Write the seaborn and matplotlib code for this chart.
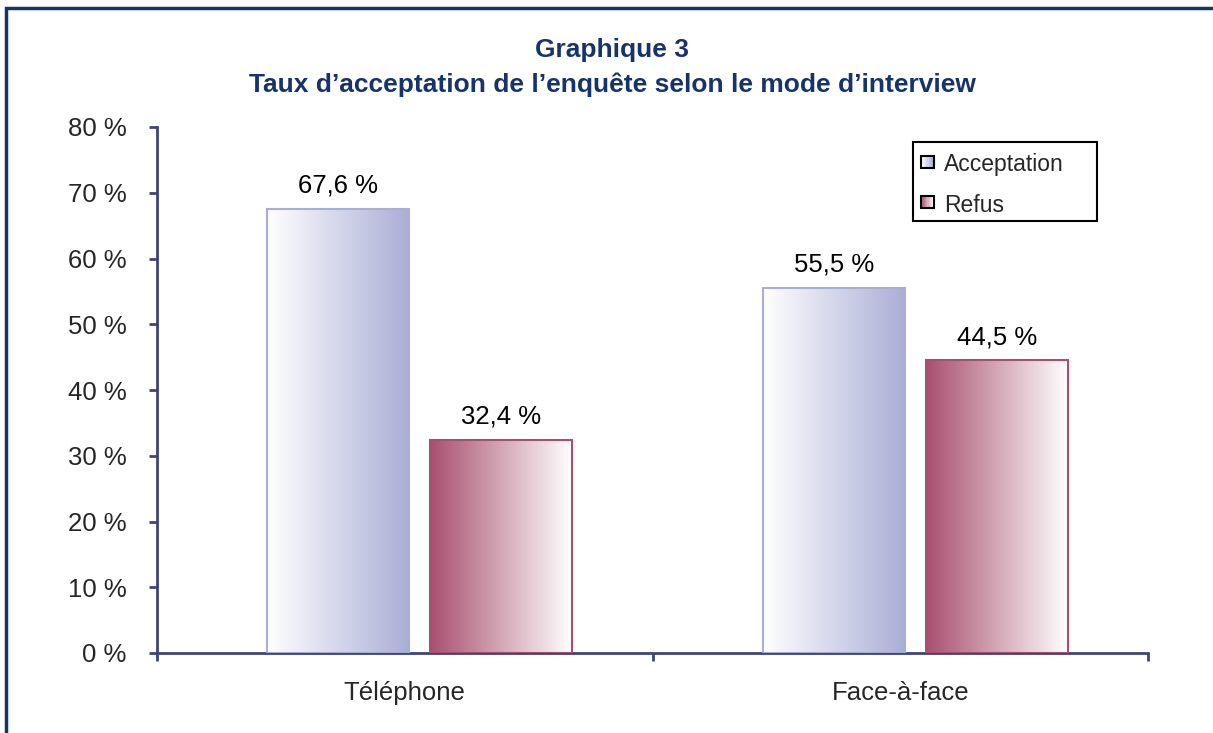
import numpy as np
import pandas as pd
import seaborn as sns
import matplotlib
matplotlib.use("Agg")
from matplotlib import pyplot as plt
from matplotlib.patches import Rectangle
from matplotlib.colors import LinearSegmentedColormap
from matplotlib.legend_handler import HandlerBase

# donnees
modes = ["Téléphone", "Face-à-face"]
acceptation = [67.6, 55.5]
refus = [32.4, 44.5]
series = ["Acceptation", "Refus"]
y_ticks = [0, 10, 20, 30, 40, 50, 60, 70, 80]

navy = "#17336B"
axis_col = "#3F4478"
lav = "#A9AED6"
rose = "#A8506F"

df = pd.DataFrame({
    "mode": modes * 2,
    "serie": [series[0]] * len(modes) + [series[1]] * len(modes),
    "valeur": acceptation + refus,
})

sns.set_style("white")
plt.rcParams["font.family"] = ["Liberation Sans", "DejaVu Sans"]

W, H = 1213, 733
fig = plt.figure(figsize=(W / 100, H / 100), dpi=100)
ax = fig.add_axes([157 / W, 1 - 653 / H, 991 / W, 526 / H])

sns.barplot(data=df, x="mode", y="valeur", hue="serie", hue_order=series,
            order=modes, width=0.62, legend=False, ax=ax)

# degrade : blanc -> lavande pour acceptation, rose -> blanc pour refus
cmaps = [LinearSegmentedColormap.from_list("acc", ["#FFFFFF", lav]),
         LinearSegmentedColormap.from_list("ref", [rose, "#FFFFFF"])]
edges = [lav, rose]
shifts = [0.0324, 0.0514]   # petit decalage comme dans Excel
bar_w = 0.2866
grad = np.linspace(0, 1, 256).reshape(1, -1)

for i, cont in enumerate(ax.containers):
    for bar in cont:
        x, h = bar.get_x() + shifts[i], bar.get_height()
        w = bar_w
        bar.set_x(x)
        bar.set_width(w)
        bar.set_facecolor("none")
        bar.set_edgecolor(edges[i])
        bar.set_linewidth(1.5)
        bar.set_zorder(3)
        ax.imshow(grad, extent=[x, x + w, 0, h], aspect="auto",
                  cmap=cmaps[i], zorder=2, interpolation="bilinear")
        ax.annotate(f"{h:.1f} %".replace(".", ","), (x + w / 2, h),
                    xytext=(0, 8), textcoords="offset points",
                    ha="center", va="bottom", fontsize=18.5, color="black")

ax.set_xlim(-0.5, 1.5)
ax.set_ylim(0, 80)
ax.set_yticks(y_ticks)
ax.set_yticklabels([f"{t} %" for t in y_ticks], fontsize=18.5)
ax.set_xticks([-0.5, 0.5, 1.5])
ax.set_xticklabels([])
ax.set_xticks([0, 1], minor=True)
ax.set_xticklabels(modes, minor=True, fontsize=18.5)
ax.tick_params(axis="x", which="minor", length=0, pad=20)
ax.tick_params(axis="both", which="major", direction="out", length=6,
               width=2, color=axis_col, left=True, bottom=True)
ax.tick_params(axis="y", pad=16)
ax.set_xlabel("")
ax.set_ylabel("")
for side in ["top", "right"]:
    ax.spines[side].set_visible(False)
for side in ["left", "bottom"]:
    ax.spines[side].set_color(axis_col)
    ax.spines[side].set_linewidth(2)


class GradientHandler(HandlerBase):
    def __init__(self, cmap):
        super().__init__()
        self.cmap = cmap

    def create_artists(self, legend, orig, xd, yd, width, height, fontsize, trans):
        side = 9.0
        x0, y0 = -xd, -yd + (height - side) / 2 + 1.0
        n = 10
        arts = []
        for k in range(n):
            arts.append(Rectangle((x0 + k * side / n, y0), side / n + 0.2, side,
                                  facecolor=self.cmap((k + 0.5) / n),
                                  edgecolor="none", transform=trans))
        arts.append(Rectangle((x0, y0), side, side, facecolor="none",
                              edgecolor="black", linewidth=1.5, transform=trans))
        return arts


h1, h2 = Rectangle((0, 0), 1, 1), Rectangle((0, 0), 1, 1)
leg = ax.legend([h1, h2], series, loc="center left",
                bbox_to_anchor=(921 / W, 1 - 185 / H),
                bbox_transform=fig.transFigure,
                borderaxespad=0, borderpad=0, fontsize=16.5, frameon=False,
                handlelength=0.545, handletextpad=0.45, labelspacing=0.75,
                handler_map={h1: GradientHandler(cmaps[0]),
                             h2: GradientHandler(cmaps[1])})

# cadre de la legende
fig.patches.append(Rectangle((913 / W, 1 - 221 / H), 184 / W, 79 / H,
                             transform=fig.transFigure, fill=False,
                             edgecolor="black", linewidth=1.5, zorder=5))

fig.text(612 / W, 1 - 50 / H, "Graphique 3", ha="center", va="center",
         fontsize=19, fontweight="bold", color=navy)
fig.text(612 / W, 1 - 85 / H,
         "Taux d\u2019acceptation de l\u2019enquête selon le mode d\u2019interview",
         ha="center", va="center", fontsize=19, fontweight="bold", color=navy)

fig.patches.append(Rectangle((6 / W, -0.1), 1.2, 1.1 - 8 / H,
                             transform=fig.transFigure, fill=False,
                             edgecolor=navy, linewidth=2.5))

fig.savefig("out.png", dpi=100)
